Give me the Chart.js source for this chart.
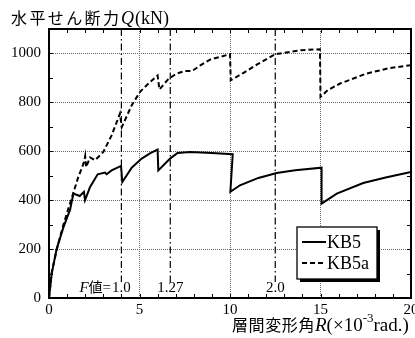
<!DOCTYPE html>
<html>
<head>
<meta charset="utf-8">
<script src="https://cdn.jsdelivr.net/npm/chart.js@4.4.0/dist/chart.umd.min.js"></script>
<style>
  html, body { margin: 0; padding: 0; background: #fff; }
  #wrap { width: 415px; height: 338px; }
</style>
</head>
<body>
<div id="wrap"><canvas id="chart" width="415" height="338"></canvas></div>
<script>
// 層間変形角 R (x10^-3 rad.) と 水平せん断力 Q (kN)
const kb5X = [0, 0.15, 0.42, 0.8, 1.16, 1.35, 1.7, 1.93, 1.99, 2.27, 2.69, 3.09, 3.18, 3.46, 3.98, 4.05, 4.57, 5.12, 5.6, 6.0, 6.04, 6.69, 7.1, 7.8, 9.0, 10.15, 10.02, 10.55, 11.57, 12.58, 13.6, 15.06, 15.06, 15.9, 17.36, 18.6, 20];
const kb5Y = [0, 100, 200, 290, 360, 427, 417, 434, 400, 454, 506, 513, 506, 522, 540, 474, 533, 570, 592, 607, 522, 570, 593, 597, 593, 588, 434, 461, 491, 511, 522, 533, 386, 427, 470, 493, 515];

const kb5aX = [0, 0.15, 0.45, 0.8, 1.07, 1.25, 1.62, 1.84, 1.95, 2.0, 2.05, 2.27, 2.54, 3.0, 3.46, 3.92, 4.02, 4.57, 5.03, 5.58, 6.0, 6.1, 6.59, 7.05, 7.5, 7.9, 8.34, 8.9, 10.0, 10.04, 10.73, 11.5, 12.49, 13.87, 14.97, 15.0, 15.4, 16.08, 17.55, 18.8, 20];
const kb5aY = [0, 105, 205, 300, 366, 407, 495, 536, 560, 580, 535, 575, 563, 597, 665, 754, 699, 788, 843, 883, 910, 853, 895, 918, 928, 928, 950, 975, 997, 890, 920, 955, 997, 1013, 1017, 822, 850, 877, 918, 940, 952];

const seriesNames = ['KB5', 'KB5a'];

// F値の境界
const fLineX = [4, 6.7, 12.5];
const fLabels = ['1.0', '1.27', '2.0'];

const xTicks = [0, 5, 10, 15, 20];
const yTicks = [0, 200, 400, 600, 800, 1000];
const xMax = 20, yMax = 1100;

const SERIF = "'Liberation Serif', 'Times New Roman', serif";
const CJK = "'Noto Sans CJK JP', 'Liberation Serif', sans-serif";

function pts(xs, ys) { return xs.map((x, i) => ({ x: x, y: ys[i] })); }

const fDatasets = fLineX.map(x => ({
  label: 'F',
  data: [{ x: x, y: yMax }, { x: x, y: 65 }],
  borderColor: '#000',
  borderWidth: 1.2,
  borderDash: [7, 3, 1.5, 3],
  pointRadius: 0,
  fill: false,
  showLine: true
}));

function gridColor(max) {
  return ctx => (ctx.tick && (ctx.tick.value === 0 || ctx.tick.value === max)) ? 'rgba(0,0,0,0)' : '#666';
}

const decor = {
  id: 'decor',
  afterDraw(chart) {
    const c = chart.ctx, a = chart.chartArea;
    const xs = chart.scales.x, ys = chart.scales.y;
    c.save();
    c.strokeStyle = '#000';
    c.fillStyle = '#000';

    // inward ticks
    c.lineWidth = 1;
    c.beginPath();
    for (let v = 1; v < xMax; v++) {
      const px = Math.round(xs.getPixelForValue(v)) + 0.5;
      c.moveTo(px, a.bottom); c.lineTo(px, a.bottom - 4);
      c.moveTo(px, a.top); c.lineTo(px, a.top + 4);
    }
    for (let v = 100; v < yMax; v += 100) {
      const py = Math.round(ys.getPixelForValue(v)) + 0.5;
      c.moveTo(a.left, py); c.lineTo(a.left + 4, py);
      c.moveTo(a.right, py); c.lineTo(a.right - 4, py);
    }
    c.stroke();

    // frame
    c.lineWidth = 2;
    c.strokeRect(a.left, a.top, a.right - a.left, a.bottom - a.top);

    // F labels
    c.textBaseline = 'alphabetic';
    const by = 292;
    fLabels.forEach((t, i) => {
      const cx = xs.getPixelForValue(fLineX[i]);
      c.font = '15px ' + SERIF;
      c.textAlign = 'center';
      c.fillText(t, cx, by);
      if (i === 0) {
        const w = c.measureText(t).width;
        let rx = cx - w / 2 - 1;
        c.textAlign = 'right';
        c.fillText('=', rx, by);
        rx -= c.measureText('=').width;
        c.font = '14px ' + CJK;
        c.fillText('値', rx, by);
        rx -= c.measureText('値').width;
        c.font = 'italic 15px ' + SERIF;
        c.fillText('F', rx, by);
      }
    });

    // y title
    c.textAlign = 'left';
    c.font = '16px ' + CJK;
    const tChars = '水平せん断力';
    for (let i = 0; i < tChars.length; i++) c.fillText(tChars[i], 11 + i * 18.4, 24);
    c.font = 'italic 18px ' + SERIF;
    c.fillText('Q', 121, 24);
    c.font = '18px ' + SERIF;
    c.fillText('(kN)', 135, 24);

    // x title
    c.font = '16px ' + CJK;
    const xChars = '層間変形角';
    for (let i = 0; i < xChars.length; i++) c.fillText(xChars[i], 232 + i * 16.6, 331);
    let x = 315;
    c.font = 'italic 19px ' + SERIF;
    c.fillText('R', x, 331); x += c.measureText('R').width;
    c.font = '19px ' + SERIF;
    c.fillText('(×10', x, 331); x += c.measureText('(×10').width;
    c.font = '13px ' + SERIF;
    c.fillText('-3', x, 322); x += c.measureText('-3').width;
    c.font = '19px ' + SERIF;
    c.fillText('rad.)', x, 331);

    // legend
    const lx = 297, ly = 227, lw = 80, lh = 52;
    c.fillStyle = '#000';
    c.fillRect(lx + 3, ly + 3, lw, lh);
    c.fillStyle = '#fff';
    c.fillRect(lx, ly, lw, lh);
    c.lineWidth = 1.3;
    c.strokeRect(lx, ly, lw, lh);
    const ds = chart.data.datasets;
    [0, 1].forEach(i => {
      const yy = i === 0 ? 242 : 263;
      c.beginPath();
      c.lineWidth = 2;
      c.setLineDash(ds[i].borderDash || []);
      c.moveTo(302, yy); c.lineTo(326, yy);
      c.stroke();
      c.setLineDash([]);
      c.fillStyle = '#000';
      c.font = '18px ' + SERIF;
      c.textAlign = 'left';
      c.fillText(ds[i].label, 327, yy + 6);
    });
    c.restore();
  }
};

new Chart(document.getElementById('chart').getContext('2d'), {
  type: 'scatter',
  data: {
    datasets: [
      { label: seriesNames[0], data: pts(kb5X, kb5Y), showLine: true, borderColor: '#000', borderWidth: 2, pointRadius: 0, borderDash: [] },
      { label: seriesNames[1], data: pts(kb5aX, kb5aY), showLine: true, borderColor: '#000', borderWidth: 2, pointRadius: 0, borderDash: [5, 3] }
    ].concat(fDatasets)
  },
  plugins: [decor],
  options: {
    responsive: false,
    animation: false,
    devicePixelRatio: 1,
    layout: { padding: { top: 29, right: 4, left: 0, bottom: 0 } },
    plugins: { legend: { display: false }, tooltip: { enabled: false } },
    scales: {
      x: {
        type: 'linear', min: 0, max: xMax,
        afterBuildTicks: s => { s.ticks = xTicks.map(v => ({ value: v })); },
        afterFit: s => { s.height = 40; s.paddingLeft = 0; s.paddingRight = 0; },
        ticks: { color: '#000', font: { family: SERIF, size: 15 }, padding: 3, maxRotation: 0, callback: v => String(v) },
        grid: { color: gridColor(xMax), lineWidth: 1, drawTicks: false },
        border: { display: false, dash: [1, 1] }
      },
      y: {
        type: 'linear', min: 0, max: yMax,
        afterBuildTicks: s => { s.ticks = yTicks.map(v => ({ value: v })); },
        afterFit: s => { s.width = 49; s.paddingTop = 0; s.paddingBottom = 0; },
        ticks: { color: '#000', font: { family: SERIF, size: 15 }, padding: 8, callback: v => String(v) },
        grid: { color: gridColor(yMax), lineWidth: 1, drawTicks: false },
        border: { display: false, dash: [1, 1] }
      }
    }
  }
});
</script>
</body>
</html>
